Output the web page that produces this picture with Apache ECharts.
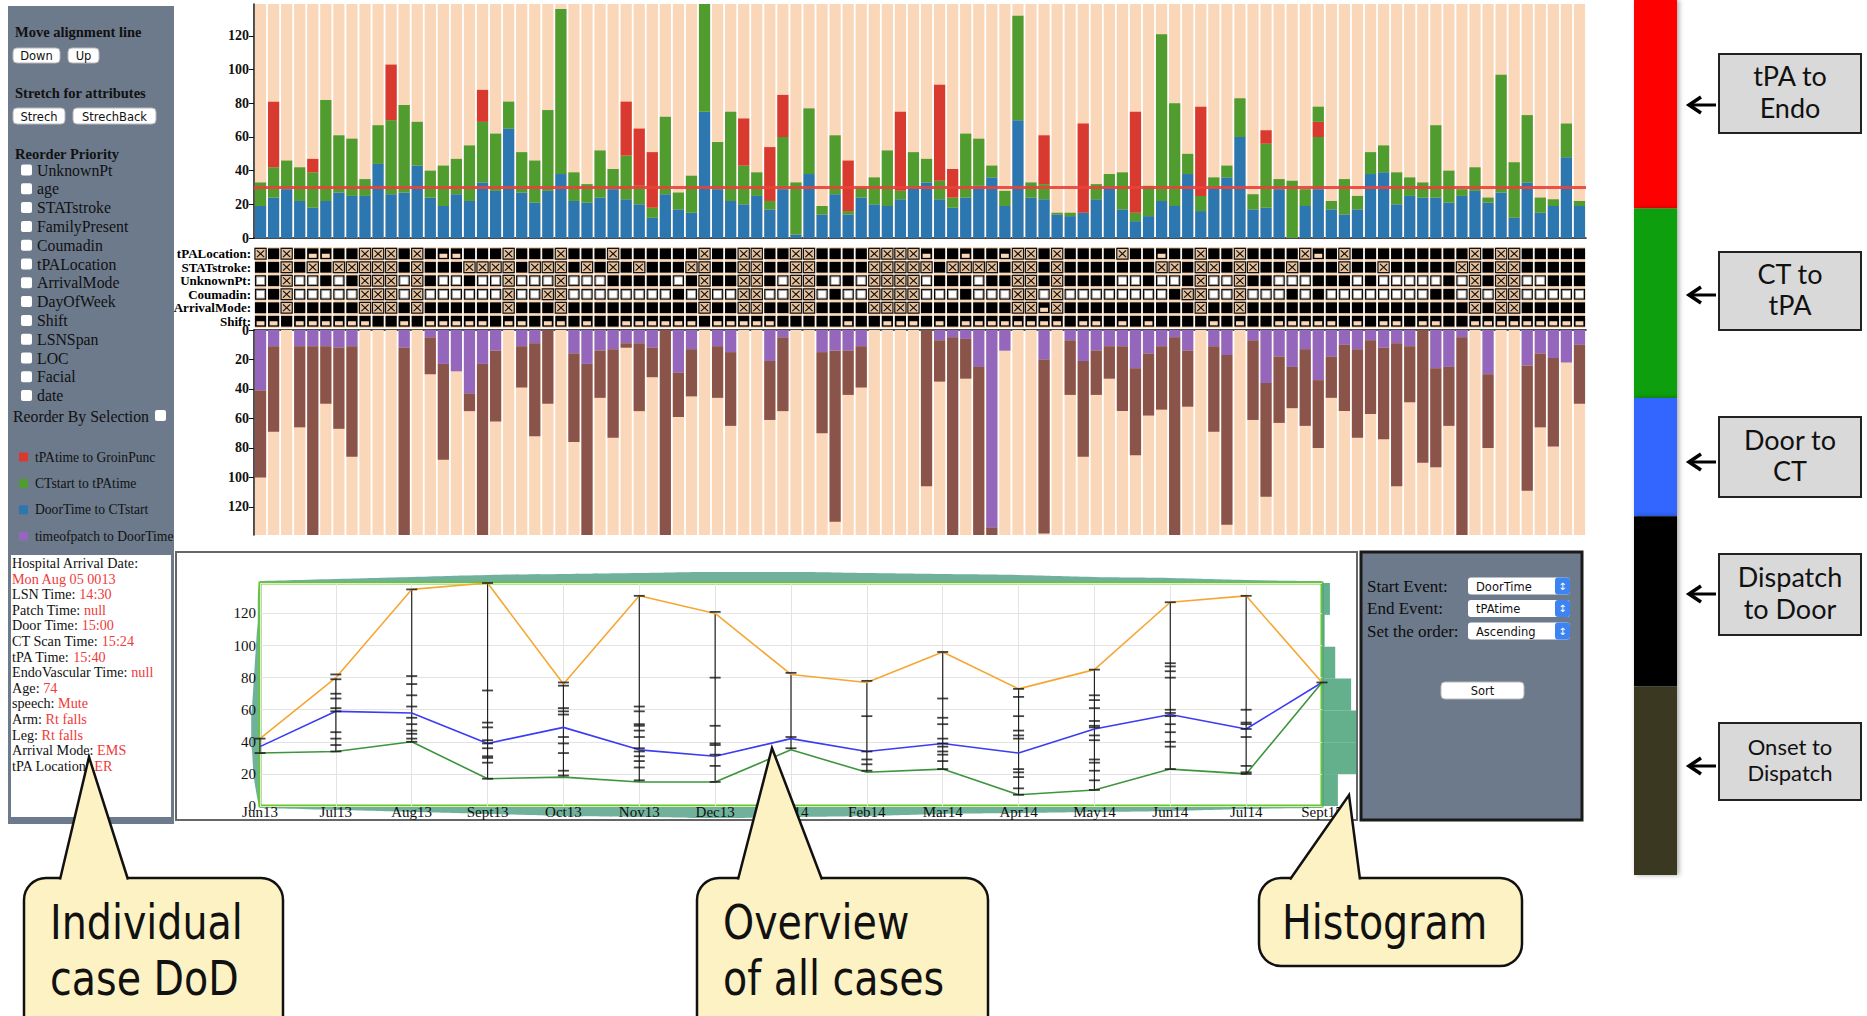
<!DOCTYPE html>
<html>
<head>
<meta charset="utf-8">
<title>Stroke case timeline</title>
<script src="https://cdn.jsdelivr.net/npm/echarts@6.0.0/dist/echarts.min.js"></script>
<style>
  html, body { margin: 0; padding: 0; background: #fff; }
  #chart { width: 1867px; height: 1016px; }
</style>
</head>
<body>
<div id="chart"></div>
<script>
// ---- cases (one column per patient) ----
const caseIds = [];
for (let i = 1; i <= 102; i++) caseIds.push(String(i));

// upper stacked bars (minutes)
const doorToCt = [19,24,29,22,18,22,27,25,25,44, 26,27,43,24,19,26,22,33,28,65, 27,21,28,38,22,21,24,29,23,20,
  12,26,17,15,75,29,22,20,25,17, 29,2,38,14,26,14,24,20,19,23, 30,33,23,18,24,31,36,19,70,24,
  23,14,13,15,23,30,17,10,13,22, 19,38,16,30,36,60,17,18,29,0, 19,29,17,14,17,38,39,20,25,24,
  24,21,25,28,21,27,12,33,15,19, 48,19];
const ctToTpa = [14,18,17,20,21,60,34,34,10,23, 44,52,26,16,24,21,33,36,34,16, 24,25,48,98,17,11,28,12,26,11,
  6,46,10,22,64,28,53,23,14,5, 31,31,39,5,35,2,6,16,33,5, 21,14,11,6,38,28,7,9,62,9,
  9,1,2,0,9,8,22,5,18,99, 61,12,9,6,7,23,9,38,6,34, 10,31,5,21,8,13,16,19,11,9,
  43,19,4,14,3,70,33,40,9,4, 20,3];
const tpaToGroin = [0,39,0,0,8,0,0,0,0,0, 33,0,0,0,0,0,0,19,0,0, 0,0,0,0,0,0,0,0,32,34,
  33,0,0,0,0,0,0,28,0,32, 25,0,0,0,0,30,0,0,0,47, 0,0,57,17,0,0,0,0,0,0,
  29,0,0,53,0,0,0,60,0,0, 0,0,53,0,0,0,0,8,0,0, 0,9,0,0,0,0,0,0,0,0,
  0,0,0,0,0,0,0,0,0,0, 0,0];
const ctToTpaAfter = [0,0,0,0,0,0,0,0,0,0, 0,0,0,0,0,0,0,0,0,0, 0,0,0,0,0,0,0,0,0,0,
  0,0,0,0,0,0,0,0,0,0, 0,0,0,0,0,0,0,0,0,0, 0,0,0,0,0,0,0,0,0,0,
  0,0,0,0,0,0,0,0,0,0, 0,0,0,0,0,0,0,0,0,0, 0,9,0,0,0,0,0,0,0,0,
  0,0,0,0,0,0,0,0,0,0, 0,0];

// lower (downward) stacked bars
const patchToDoor = [41,11,0,11,11,11,12,11,0,0, 0,12,0,5,23,28,43,23,14,0, 11,9,0,0,16,23,14,13,9,9,
  12,0,29,13,0,11,15,0,0,21, 5,0,0,15,14,14,11,0,0,0, 0,0,7,5,6,25,134,14,0,0,
  20,0,7,21,14,11,11,26,16,11, 5,14,0,11,17,0,7,36,18,25, 13,34,18,10,13,7,12,9,11,0,
  26,25,5,0,30,0,0,24,16,19, 22,10];
const onsetSpan = [59,58,0,55,128,39,55,75,0,0, 0,127,0,25,65,0,12,116,48,0, 28,63,50,0,60,116,32,60,3,46,
  20,139,30,32,0,35,50,0,0,40, 50,0,0,55,116,30,28,0,0,0, 0,106,28,134,27,114,5,0,0,0,
  118,0,37,65,30,22,44,59,42,43, 134,38,0,58,115,0,54,77,45,28, 52,46,28,45,60,50,62,97,38,90,
  67,40,134,0,50,0,0,85,50,60, 0,40];

const alignLine = 30;

// attribute matrix: K black, W white, X missing, S partial
const rowNames = ['tPALocation:', 'STATstroke:', 'UnknownPt:', 'Coumadin:', 'ArrivalMode:', 'Shift:'];
const rowCells = [
  'XKXKSSKKXX XKXKSSKKKX KKKXKKKXKK KKKKXKKXXK KXXKKKKXXX XSKKSKKSXX KXKKKKXKKS KKXKKXKKKK XSKXKKKKKK KKKXKXXKKK KK',
  'KKXKXKXXXX XKXKKKXXXX KXXXKXKXKX KKKXXKKXXK KXXKKKKXXX XXKXXXXKXX KXKKKKKKKX XKXXKXXKKX KKKXKKXKKK KKXXKXXKKK KK',
  'WKXWWKWKXX XWXKWWKWWX WWWXWWWKKK KKWKXKKXXK WXXKWKWXXX XWKKKWKKXX KXKKKKWWKW WKXWWXKKWW WKKKWKWWWW WKWXKXXWWK KK',
  'WKXWWWWWXX XWXWWWWWWX WWXXWWWWWW WWKWXWWXXW WXXWKWWXXX XWWWKWWWXX WXWWWWWWWW KXXWWXWWWK WKWWWWWWWW KKWXWXXWWW WW',
  'KKXKKKKKXX XKXKKKKKKX KKKXKKKKKK KKKKXKKXXK KXXKKKKXXX XKKKKKKKXX SXKKKKKKKK KKXKKXKKKK KKKKKKKKKK KKKXKXXKKK KK',
  'SSKSSSSSSK KSKSSSSSKS SKSSKSKKSS SSSSKSSSSS KKKKKSKKSS SKSKSSSSSS SSKSSKSKSK KKKSKSKKSS SSSKSKSSKS SKKSSSSSSS SS'
];

// ---- overview by month ----
const months = ['Jun13','Jul13','Aug13','Sept13','Oct13','Nov13','Dec13','Jan14','Feb14','Mar14','Apr14','May14','Jun14','Jul14','Sept15'];
const maxVals  = [42, 80, 135, 139, 76, 131, 120, 82, 77, 96, 73, 85, 127, 131, 77];
const meanVals = [37, 59, 58, 39, 49, 35, 31, 42, 34, 39, 33, 48, 57, 48, 77];
const minVals  = [33, 34, 40, 17, 18, 15, 15, 35, 21, 23, 7, 10, 23, 20, 77];
const caseTicks = [
  [33, 42],
  [82, 79, 70, 67, 61, 59, 46, 42, 38, 34],
  [135, 81, 76, 69, 62, 55, 51, 47, 45, 42, 40],
  [139, 72, 52, 49, 41, 39, 36, 31, 30, 27, 17],
  [77, 75, 61, 59, 57, 43, 39, 33, 22, 19],
  [131, 62, 59, 51, 50, 47, 43, 36, 34, 31, 28, 24, 16],
  [121, 80, 50, 39, 38, 32, 25, 15],
  [83, 43, 36],
  [78, 56, 34, 29, 26, 22],
  [96, 67, 55, 51, 42, 39, 37, 34, 32, 28, 23],
  [73, 68, 56, 47, 44, 42, 23, 21, 18, 11, 7],
  [85, 69, 66, 61, 53, 50, 49, 44, 41, 29, 27, 22, 16, 10],
  [127, 89, 87, 84, 80, 60, 58, 56, 51, 46, 40, 37, 23],
  [131, 60, 52, 51, 48, 43, 25, 21, 20],
  [77]
];
const histBins = ['0-20','20-40','40-60','60-80','80-100','100-120','120-140'];
const histCounts = [6, 13, 13, 11, 5, 1, 3];
const bandTop    = [2, 4, 6, 8, 9, 10, 11, 11, 10, 9, 8, 6, 5, 3, 2];
const bandBottom = [2, 4, 6, 8, 10, 11, 12, 11, 10, 8, 7, 6, 5, 3, 2];
const leftBins = ['0','10','20','30','40','50','60','70','80','90','100','110','120','130'];
const bandLeft = [1, 4, 6, 7, 8, 8, 7, 6, 5, 4, 3, 2, 2, 1];

// ---- stage colour key ----
const stageNames = ['tPA to Endo', 'CT to tPA', 'Door to CT', 'Dispatch to Door', 'Onset to Dispatch'];
const stageSpans = [208, 189, 118, 170, 188];
const stageColors = ['#ff0000', '#0a9f0a', '#3366ff', '#000000', '#3b3823'];

const PEACH = '#fad7b9';
const SERIF = 'Liberation Serif';
const kindCode = { K: 0, W: 1, X: 2, S: 3 };

const matrixData = [];
rowCells.forEach((row, r) => {
  row.replace(/ /g, '').split('').forEach((ch, c) => matrixData.push([c, r, kindCode[ch]]));
});
const whiskers = months.map((m, i) => [i, minVals[i], maxVals[i]]);
const tickData = [];
caseTicks.forEach((list, i) => list.forEach(v => tickData.push([i, v])));

function renderCell(params, api) {
  const c = api.coord([api.value(0), api.value(1)]);
  const band = api.size([1, 1]);
  const w = band[0] * 0.86, h = band[1] * 0.8;
  const x0 = c[0] - w / 2, y0 = c[1] - h / 2;
  const kind = api.value(2);
  const kids = [];
  if (kind === 2) {
    kids.push({ type: 'rect', shape: { x: x0, y: y0, width: w, height: h }, style: { fill: '#e6c09b', stroke: '#111', lineWidth: 1.2 } });
    kids.push({ type: 'line', shape: { x1: x0 + 2, y1: y0 + 2, x2: x0 + w - 2, y2: y0 + h - 2 }, style: { stroke: '#111', lineWidth: 1.2 } });
    kids.push({ type: 'line', shape: { x1: x0 + w - 2, y1: y0 + 2, x2: x0 + 2, y2: y0 + h - 2 }, style: { stroke: '#111', lineWidth: 1.2 } });
  } else {
    kids.push({ type: 'rect', shape: { x: x0, y: y0, width: w, height: h }, style: { fill: '#000' } });
    if (kind === 1) kids.push({ type: 'rect', shape: { x: x0 + 1.5, y: y0 + 1.5, width: w - 3, height: h - 3 }, style: { fill: '#fff', stroke: '#999', lineWidth: 1 } });
    if (kind === 3) kids.push({ type: 'rect', shape: { x: x0 + w * 0.15, y: y0 + h * 0.5, width: w * 0.7, height: h * 0.38 }, style: { fill: PEACH } });
  }
  return { type: 'group', children: kids };
}

function renderWhisker(params, api) {
  const a = api.coord([api.value(0), api.value(1)]);
  const b = api.coord([api.value(0), api.value(2)]);
  return { type: 'line', shape: { x1: a[0], y1: a[1], x2: b[0], y2: b[1] }, style: { stroke: '#222', lineWidth: 1.2 } };
}

// ---- page furniture (panels, callouts, key) ----
const g = [];
function text(x, y, str, size, extra) {
  g.push({ type: 'text', x: x, y: y, z: 20,
    style: Object.assign({ text: str, fill: '#111', fontSize: size, fontFamily: SERIF, verticalAlign: 'middle' }, extra || {}) });
}
function box(x, y, w, h, fill, extra) {
  g.push(Object.assign({ type: 'rect', z: 10, shape: { x: x, y: y, width: w, height: h, r: (extra && extra.r) || 0 },
    style: Object.assign({ fill: fill }, (extra && extra.style) || {}) }, extra && extra.z !== undefined ? { z: extra.z } : {}));
}
function button(x, y, w, h, label) {
  box(x, y, w, h, '#fff', { r: 4, style: { stroke: '#b8b8b8', lineWidth: 1 } });
  text(x + w / 2, y + h / 2 + 0.5, label, 11.5, { fontFamily: 'DejaVu Sans', align: 'center' });
}

// left control panel
box(8, 6, 166, 818, '#6c7a8c', { z: 5 });
text(15, 32, 'Move alignment line', 14.5, { fontWeight: 'bold' });
button(13, 48, 47, 15, 'Down');
button(68, 48, 31, 15, 'Up');
text(15, 93, 'Stretch for attributes', 14.5, { fontWeight: 'bold' });
button(13, 108, 52, 16, 'Strech');
button(73, 108, 83, 16, 'StrechBack');
text(15, 154, 'Reorder Priority', 14.5, { fontWeight: 'bold' });
const priorityNames = ['UnknownPt','age','STATstroke','FamilyPresent','Coumadin','tPALocation','ArrivalMode','DayOfWeek','Shift','LSNSpan','LOC','Facial','date'];
priorityNames.forEach((n, i) => {
  const y = 170 + i * 18.8;
  box(21, y - 5.5, 11, 11, '#fff', { r: 2 });
  text(37, y, n, 15.8);
});
text(13, 416, 'Reorder By Selection', 15.8);
box(155, 410, 11, 11, '#fff', { r: 2 });
const legendNames = ['tPAtime to GroinPunc', 'CTstart to tPAtime', 'DoorTime to CTstart', 'timeofpatch to DoorTime'];
const legendColors = ['#d93a2f', '#519c2f', '#2c77b0', '#9467bd'];
legendNames.forEach((n, i) => {
  const y = 457 + i * 26.4;
  box(19, y - 4.5, 9, 9, legendColors[i]);
  text(35, y, n, 13.6);
});
box(11, 555, 160, 262, '#fff');
const infoLines = [
  'Hospital Arrival Date:', '{v|Mon Aug 05 0013}', 'LSN Time: {v|14:30}', 'Patch Time: {v|null}',
  'Door Time: {v|15:00}', 'CT Scan Time: {v|15:24}', 'tPA Time: {v|15:40}', 'EndoVascular Time: {v|null}',
  'Age: {v|74}', 'speech: {v|Mute}', 'Arm: {v|Rt falls}', 'Leg: {v|Rt falls}', 'Arrival Mode: {v|EMS}', 'tPA Location: {v|ER}'
];
infoLines.forEach((s, i) => {
  text(12, 563 + i * 15.6, s, 14.2, { rich: { v: { fill: '#ee3a3a', color: '#ee3a3a', fontSize: 14.2, fontFamily: SERIF } } });
});

// overview frame and right control panel
box(176, 552, 1181, 268, '#fff', { z: -5, style: { stroke: '#666', lineWidth: 2 } });
box(1361, 552, 221, 268, '#6c7a8c', { z: 5, style: { stroke: '#1a1a1a', lineWidth: 3 } });
const selectRows = [['Start Event:', 'DoorTime'], ['End Event:', 'tPAtime'], ['Set the order:', 'Ascending']];
selectRows.forEach((r, i) => {
  const y = 586 + i * 22.5;
  text(1367, y, r[0], 17, { fill: '#0d0d0d' });
  box(1468, y - 8.5, 102, 17, '#fff', { r: 3 });
  box(1555, y - 8.5, 15, 17, '#3d84f2', { r: 3 });
  text(1476, y + 0.5, r[1], 11.5, { fontFamily: 'DejaVu Sans' });
  text(1562.5, y, '\u2195', 10, { fontFamily: 'DejaVu Sans', fill: '#fff', align: 'center' });
});
button(1441, 682, 83, 17, 'Sort');

// stage key boxes with arrows
const keyBoxes = [
  { y: 54, h: 79, lines: ['tPA to', 'Endo'], size: 27, arrow: 105 },
  { y: 252, h: 78, lines: ['CT to', 'tPA'], size: 27, arrow: 295 },
  { y: 417, h: 80, lines: ['Door to', 'CT'], size: 27, arrow: 462 },
  { y: 554, h: 81, lines: ['Dispatch', 'to Door'], size: 27, arrow: 594 },
  { y: 723, h: 77, lines: ['Onset to', 'Dispatch'], size: 22, arrow: 766 }
];
keyBoxes.forEach(k => {
  box(1719, k.y, 142, k.h, '#d9d9d9', { style: { stroke: '#222', lineWidth: 2 } });
  const gap = k.size * 1.15;
  const c = k.y + k.h / 2 - 2;
  text(1790, c - gap / 2, k.lines[0], k.size, { fontFamily: 'Lato', align: 'center', fill: '#111', lineHeight: k.size });
  text(1790, c + gap / 2, k.lines[1], k.size, { fontFamily: 'Lato', align: 'center', fill: '#111', lineHeight: k.size });
  g.push({ type: 'polyline', z: 20, shape: { points: [[1701, k.arrow - 8], [1689, k.arrow], [1701, k.arrow + 8]] }, style: { stroke: '#000', lineWidth: 3.5, fill: null } });
  g.push({ type: 'line', z: 20, shape: { x1: 1690, y1: k.arrow, x2: 1716, y2: k.arrow }, style: { stroke: '#000', lineWidth: 3 } });
});

// callouts
function callout(x, y, w, h, b1, b2, tip, lines, tx) {
  const fill = '#fdf2c4';
  g.push({ type: 'rect', z: 50, shape: { x: x, y: y, width: w, height: h, r: 22 }, style: { fill: fill, stroke: '#111', lineWidth: 2.5 } });
  g.push({ type: 'polygon', z: 51, shape: { points: [[b1, y + 3], tip, [b2, y + 3]] }, style: { fill: fill } });
  g.push({ type: 'polyline', z: 52, shape: { points: [[b1, y + 1.5], tip, [b2, y + 1.5]] }, style: { stroke: '#111', lineWidth: 2.5, fill: null } });
  lines.forEach((s, i) => {
    g.push({ type: 'text', z: 53, x: tx, y: y + 44 + i * 56, scaleY: 1.1,
      style: { text: s, fill: '#111', fontSize: 44, fontFamily: 'DejaVu Sans Condensed, DejaVu Sans', verticalAlign: 'middle' } });
  });
}
callout(24, 878, 259, 170, 60, 128, [89, 757], ['Individual', 'case DoD'], 50);
callout(697, 878, 291, 170, 738, 822, [772, 748], ['Overview', 'of all cases'], 723);
callout(1259, 878, 263, 88, 1290, 1360, [1349, 795], ['Histogram'], 1282);

const boldAxisLabel = { color: '#111', fontFamily: SERIF, fontWeight: 'bold', fontSize: 14, showMaxLabel: false, margin: 5 };
const axisBlack = { show: true, lineStyle: { color: '#111', width: 1.5 } };
const teal = 'rgba(70,155,125,0.78)';

const option = {
  backgroundColor: '#fff',
  animation: false,
  grid: [
    { left: 254, top: 4, width: 1332, height: 234 },
    { left: 254, top: 247, width: 1332, height: 81, show: true, backgroundColor: PEACH, borderWidth: 0 },
    { left: 254, top: 330, width: 1332, height: 205 },
    { left: 260, top: 583, width: 1062, height: 223, show: true, borderColor: '#66c82a', borderWidth: 3 },
    { left: 1322, top: 583, width: 45, height: 223 },
    { left: 260, top: 571, width: 1062, height: 12 },
    { left: 260, top: 806, width: 1062, height: 12 },
    { left: 1634, top: 0, width: 43, height: 875 },
    { left: 249, top: 583, width: 11, height: 223 }
  ],
  xAxis: [
    { gridIndex: 0, type: 'category', data: caseIds, axisLine: axisBlack,
      axisTick: { alignWithLabel: true, interval: 0, length: 6, lineStyle: { color: '#111' } }, axisLabel: { show: false } },
    { gridIndex: 1, type: 'category', data: caseIds, axisLine: { show: false }, axisTick: { show: false, interval: 0 },
      axisLabel: { show: false, interval: 0 }, splitLine: { show: true, interval: 0, lineStyle: { color: '#fff', width: 1.5 } } },
    { gridIndex: 2, type: 'category', data: caseIds, position: 'top', axisLine: axisBlack,
      axisTick: { alignWithLabel: true, interval: 0, inside: true, length: 6, lineStyle: { color: '#111' } }, axisLabel: { show: false } },
    { gridIndex: 3, type: 'category', data: months, boundaryGap: false, axisLine: { show: false }, axisTick: { show: false },
      axisLabel: { interval: 0, color: '#111', fontFamily: SERIF, fontSize: 15, margin: -2, hideOverlap: false },
      splitLine: { show: true, interval: 0, lineStyle: { color: '#e3e3e3' } } },
    { gridIndex: 4, type: 'value', min: 0, max: 17, show: false },
    { gridIndex: 5, type: 'category', data: months, boundaryGap: false, show: false },
    { gridIndex: 6, type: 'category', data: months, boundaryGap: false, show: false },
    { gridIndex: 7, type: 'category', data: ['key'], show: false },
    { gridIndex: 8, type: 'value', min: 0, max: 10, inverse: true, show: false }
  ],
  yAxis: [
    { gridIndex: 0, type: 'value', min: 0, max: 139, interval: 20, axisLine: axisBlack,
      axisTick: { show: true, length: 5, lineStyle: { color: '#111' } }, axisLabel: boldAxisLabel, splitLine: { show: false } },
    { gridIndex: 1, type: 'category', data: rowNames, inverse: true, axisLine: { show: false }, axisTick: { show: false },
      axisLabel: { interval: 0, color: '#000', fontFamily: SERIF, fontWeight: 'bold', fontSize: 13, margin: 3 } },
    { gridIndex: 2, type: 'value', inverse: true, min: 0, max: 139, interval: 20, axisLine: axisBlack,
      axisTick: { show: true, length: 5, lineStyle: { color: '#111' } }, axisLabel: boldAxisLabel, splitLine: { show: false } },
    { gridIndex: 3, type: 'value', min: 0, max: 139, interval: 20, axisLine: { show: false }, axisTick: { show: false },
      axisLabel: { color: '#111', fontFamily: SERIF, fontSize: 15, margin: 4, showMaxLabel: false },
      splitLine: { show: true, lineStyle: { color: '#e3e3e3' } } },
    { gridIndex: 4, type: 'category', data: histBins, show: false },
    { gridIndex: 5, type: 'value', min: 0, max: 12, show: false },
    { gridIndex: 6, type: 'value', min: 0, max: 12, inverse: true, show: false },
    { gridIndex: 7, type: 'value', min: 0, max: 873, inverse: true, show: false },
    { gridIndex: 8, type: 'category', data: leftBins, boundaryGap: false, show: false }
  ],
  series: [
    { name: 'DoorTime to CTstart', type: 'bar', stack: 'up', xAxisIndex: 0, yAxisIndex: 0, data: doorToCt,
      barCategoryGap: '14%', showBackground: true, backgroundStyle: { color: PEACH }, itemStyle: { color: '#2c77b0' } },
    { name: 'CTstart to tPAtime', type: 'bar', stack: 'up', xAxisIndex: 0, yAxisIndex: 0, data: ctToTpa, itemStyle: { color: '#519c2f' } },
    { name: 'tPAtime to GroinPunc', type: 'bar', stack: 'up', xAxisIndex: 0, yAxisIndex: 0, data: tpaToGroin, itemStyle: { color: '#d93a2f' } },
    { name: 'CTstart to tPAtime (after)', type: 'bar', stack: 'up', xAxisIndex: 0, yAxisIndex: 0, data: ctToTpaAfter, z: 3,
      itemStyle: { color: '#519c2f' },
      markLine: { silent: true, symbol: 'none', label: { show: false },
        lineStyle: { color: '#e8433a', width: 3, type: 'solid', opacity: 0.9 }, data: [{ yAxis: alignLine }] } },
    { name: 'attributes', type: 'custom', xAxisIndex: 1, yAxisIndex: 1, data: matrixData, renderItem: renderCell },
    { name: 'timeofpatch to DoorTime', type: 'bar', stack: 'down', xAxisIndex: 2, yAxisIndex: 2, data: patchToDoor,
      barCategoryGap: '14%', showBackground: true, backgroundStyle: { color: PEACH }, itemStyle: { color: '#9467bd' } },
    { name: 'onset', type: 'bar', stack: 'down', xAxisIndex: 2, yAxisIndex: 2, data: onsetSpan, itemStyle: { color: '#8b544a' } },
    { name: 'max', type: 'line', xAxisIndex: 3, yAxisIndex: 3, data: maxVals, symbol: 'none', lineStyle: { color: '#f6a733', width: 1.6 } },
    { name: 'mean', type: 'line', xAxisIndex: 3, yAxisIndex: 3, data: meanVals, symbol: 'none', lineStyle: { color: '#3c3cf2', width: 1.6 } },
    { name: 'min', type: 'line', xAxisIndex: 3, yAxisIndex: 3, data: minVals, symbol: 'none', lineStyle: { color: '#3e953e', width: 1.6 } },
    { name: 'range', type: 'custom', xAxisIndex: 3, yAxisIndex: 3, data: whiskers, renderItem: renderWhisker, z: 3 },
    { name: 'cases', type: 'scatter', xAxisIndex: 3, yAxisIndex: 3, data: tickData, symbol: 'rect', symbolSize: [11, 1.8],
      itemStyle: { color: '#151515' }, z: 4 },
    { name: 'histogram', type: 'bar', xAxisIndex: 4, yAxisIndex: 4, data: histCounts, barCategoryGap: '0%',
      itemStyle: { color: 'rgba(56,152,108,0.78)' } },
    { name: 'top band', type: 'line', xAxisIndex: 5, yAxisIndex: 5, data: bandTop, smooth: true, symbol: 'none', z: -1,
      lineStyle: { width: 0 }, areaStyle: { color: teal, opacity: 1 } },
    { name: 'bottom band', type: 'line', xAxisIndex: 6, yAxisIndex: 6, data: bandBottom, smooth: true, symbol: 'none', z: -1,
      lineStyle: { width: 0 }, areaStyle: { color: teal, opacity: 1 } },
    { name: 'left band', type: 'line', xAxisIndex: 8, yAxisIndex: 8, data: bandLeft, smooth: true, symbol: 'none', z: -1,
      lineStyle: { width: 0 }, areaStyle: { color: teal, opacity: 1 } }
  ].concat(stageNames.map((n, i) => ({
    name: n, type: 'bar', stack: 'key', xAxisIndex: 7, yAxisIndex: 7, data: [stageSpans[i]], barWidth: '100%',
    itemStyle: { color: stageColors[i], shadowBlur: 5, shadowOffsetX: 2, shadowColor: 'rgba(0,0,0,0.35)' }
  }))),
  graphic: g
};

const chart = echarts.init(document.getElementById('chart'), null, { renderer: 'svg' });
chart.setOption(option);
</script>
</body>
</html>
